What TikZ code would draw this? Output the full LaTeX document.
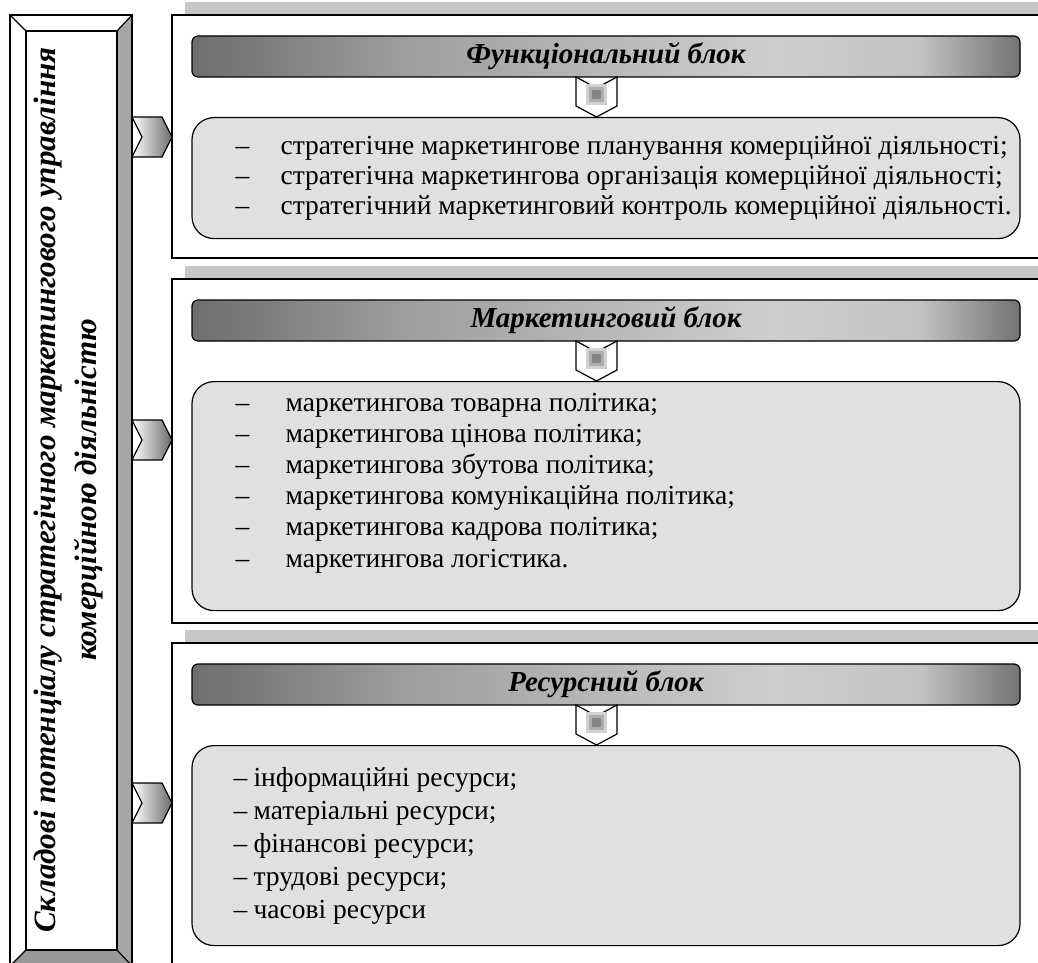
\documentclass[tikz,border=0pt]{standalone}
\usepackage{fontspec}
\setmainfont{Liberation Serif}
\usetikzlibrary{positioning}

\pgfdeclarehorizontalshading{titlebar}{100bp}{color(0bp)=(black!57); color(25bp)=(black!57); color(38bp)=(black!38); color(60bp)=(black!19); color(69bp)=(black!24); color(75bp)=(black!55); color(100bp)=(black!55)}

\newcommand{\itm}[2]{\makebox[#1][l]{–}#2}

\begin{document}
\begin{tikzpicture}[x=1pt,y=-1pt,line width=1.2pt]
    \tikzstyle{frame}=[draw,fill=white]
    \tikzstyle{shadow}=[fill=black!22]
    \tikzstyle{title bar}=[draw,rounded corners=6pt,shading=titlebar,minimum width=828pt,minimum height=41pt,inner sep=0pt,font=\fontsize{29}{30}\selectfont\bfseries\itshape]
    \tikzstyle{list box}=[draw,rounded corners=22pt,fill=black!12,minimum width=828pt,inner sep=0pt]
    \tikzstyle{list}=[align=left,inner sep=0pt,anchor=west]
    \tikzstyle{side arrow}=[draw,left color=white,right color=black!58]
    \tikzstyle{down arrow}=[draw,fill=white]

    \useasboundingbox (0,0) rectangle (1038,963);
    \clip (0,0) rectangle (1038,963);

    % Left bar with bevel
    \fill[white] (10,15) rectangle (132,966);
    \fill[black!35] (117,31) -- (132,15) -- (132,966) -- (117,950) -- cycle;
    \fill[black!40] (26,950) -- (117,950) -- (132,966) -- (10,966) -- cycle;
    \draw (10,15) rectangle (132,966);
    \draw (26,31) rectangle (117,950);
    \draw (10,15) -- (26,31) (132,15) -- (117,31) (10,966) -- (26,950) (132,966) -- (117,950);
    \node[rotate=90,align=center,font=\fontsize{31}{41}\selectfont\bfseries\itshape] (bar) at (69,490)
        {Складові потенціалу стратегічного маркетингового управління\\комерційною діяльністю};

    % Draw the three blocks
    \foreach \name/\ytop/\ybot/\boxh/\arry/\head in {func/15/258/121/117/Функціональний блок,
        mark/279/623/229/420/Маркетинговий блок, res/643/1000/200/783/Ресурсний блок}
    {
        \fill[shadow] (185,\ytop-13) rectangle (1050,\ytop);
        \draw[frame] (172,\ytop) rectangle (1050,\ybot);
        \node[title bar] (\name-title) at (606,\ytop+41.5) {\head};
        \draw[down arrow] (576,\ytop+62) -- (596.5,\ytop+73) -- (617,\ytop+62) -- (617,\ytop+91)
            -- (596.5,\ytop+102) -- (576,\ytop+91) -- cycle;
        \fill[black!18] (586,\ytop+69) rectangle (607,\ytop+90);
        \fill[black!32] (589,\ytop+72) rectangle (604,\ytop+87);
        \fill[black!48] (592,\ytop+75) rectangle (601,\ytop+84);
        \node[list box,anchor=north,minimum height=\boxh pt] (\name-box) at (606,\ytop+102) {};
        \draw[side arrow] (132,\arry) -- (162,\arry) -- (172,\arry+20) -- (162,\arry+40)
            -- (132,\arry+40) -- (142,\arry+20) -- cycle;
    }

    % Lists
    \node[list,font=\fontsize{27.5}{30}\selectfont] (func-text) at (235,178) {%
        \itm{45pt}{стратегічне маркетингове планування комерційної діяльності;}\\
        \itm{45pt}{стратегічна маркетингова організація комерційної діяльності;}\\
        \itm{45pt}{стратегічний маркетинговий контроль комерційної діяльності.}};
    \node[list,font=\fontsize{27.5}{31.2}\selectfont] (mark-text) at (235,483) {%
        \itm{50pt}{маркетингова товарна політика;}\\
        \itm{50pt}{маркетингова цінова політика;}\\
        \itm{50pt}{маркетингова збутова політика;}\\
        \itm{50pt}{маркетингова комунікаційна політика;}\\
        \itm{50pt}{маркетингова кадрова політика;}\\
        \itm{50pt}{маркетингова логістика.}};
    \node[list,font=\fontsize{27.5}{33}\selectfont] (res-text) at (233,846) {%
        \itm{20pt}{інформаційні ресурси;}\\
        \itm{20pt}{матеріальні ресурси;}\\
        \itm{20pt}{фінансові ресурси;}\\
        \itm{20pt}{трудові ресурси;}\\
        \itm{20pt}{часові ресурси}};
\end{tikzpicture}
\end{document}
